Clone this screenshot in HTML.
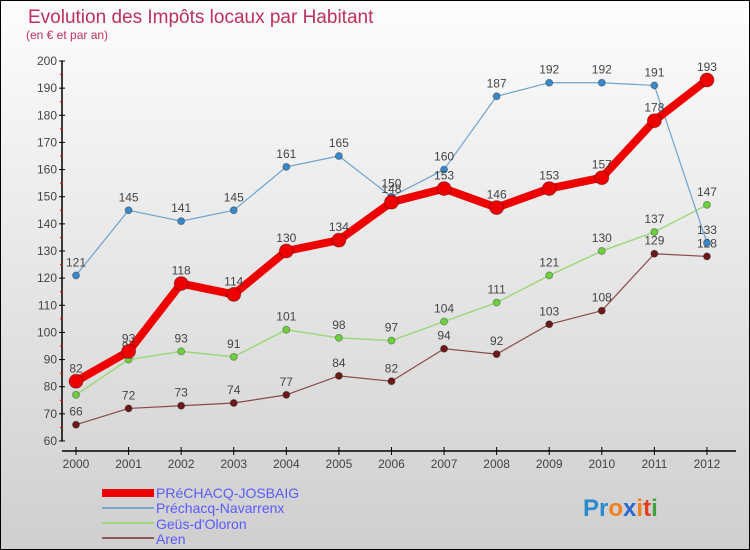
<!DOCTYPE html>
<html><head><meta charset="utf-8"><style>
body{margin:0}
#c{width:748px;height:548px;border:1px solid #000;background:linear-gradient(#fdfdfd,#cfcfcf);position:relative;font-family:"Liberation Sans",sans-serif}
</style></head><body>
<div id="c">
<svg id="s" width="748" height="548" style="position:absolute;left:0;top:0">
<text x="27" y="22" font-size="19" fill="#c0305a">Evolution des Impôts locaux par Habitant</text>
<text x="25" y="38" font-size="12" fill="#c0305a">(en € et par an)</text>
<g id="ax"></g><g id="ser"></g>
<g>
<rect x="101" y="488" width="52" height="8" fill="#e00"/>
<text x="155" y="497" font-size="14" fill="#5a5aff">PRéCHACQ-JOSBAIG</text>
<line x1="101" y1="507" x2="153" y2="507" stroke="#7aa8cc" stroke-width="2"/>
<text x="155" y="512" font-size="14" fill="#5a5aff">Préchacq-Navarrenx</text>
<line x1="101" y1="522" x2="153" y2="522" stroke="#9ed87a" stroke-width="2"/>
<text x="155" y="528" font-size="14" fill="#5a5aff">Geüs-d'Oloron</text>
<line x1="101" y1="537" x2="153" y2="537" stroke="#8a5a5a" stroke-width="2"/>
<text x="155" y="543" font-size="14" fill="#5a5aff">Aren</text>
</g>
<text x="582" y="515" font-size="24" font-weight="bold"><tspan fill="#2a8ad0">Pr</tspan><tspan fill="#f08020">o</tspan><tspan fill="#2a6ad0">x</tspan><tspan fill="#f08020">i</tspan><tspan fill="#e04020">t</tspan><tspan fill="#40a040">i</tspan></text>
</svg></div>
<script>
const years=[2000,2001,2002,2003,2004,2005,2006,2007,2008,2009,2010,2011,2012];
const yTicks=[60,70,80,90,100,110,120,130,140,150,160,170,180,190,200];
const josbaig=[82,93,118,114,130,134,148,153,146,153,157,178,193];
const navarrenx=[121,145,141,145,161,165,150,160,187,192,192,191,133];
const geus=[77,90,93,91,101,98,97,104,111,121,130,137,147];
const aren=[66,72,73,74,77,84,82,94,92,103,108,129,128];
const NS="http://www.w3.org/2000/svg";
const X=i=>75+i*52.58, Y=v=>440-(v-60)*380/140;
function mk(t,a,p){const e=document.createElementNS(NS,t);for(const k in a)e.setAttribute(k,a[k]);p.appendChild(e);return e;}
const ax=document.getElementById('ax');
let l=mk('line',{x1:61,y1:60,x2:61,y2:440,stroke:'#000','stroke-width':1.5},ax);


l=mk('line',{x1:61,y1:450,x2:735,y2:450,stroke:'#000','stroke-width':1.5},ax);


yTicks.forEach((v,i)=>{mk('line',{x1:58,y1:Y(v),x2:64,y2:Y(v),stroke:'#000'},ax);
 if(i<yTicks.length-1)mk('line',{x1:59,y1:Y(v+5),x2:62,y2:Y(v+5),stroke:'#e00'},ax);
 const t=mk('text',{x:56,y:Y(v)+4,'font-size':12,fill:'#444','text-anchor':'end'},ax);t.textContent=v;
 
 });
years.forEach((y,i)=>{mk('line',{x1:X(i),y1:446,x2:X(i),y2:454,stroke:'#000'},ax);
 const t=mk('text',{x:X(i),y:467,'font-size':12,fill:'#444','text-anchor':'middle'},ax);t.textContent=y;
 
 });
const ser=document.getElementById('ser');
function draw(vals,col,w,r,dot,name,lbl){
 const g=mk('g',{},ser);
 
 
 mk('polyline',{points:vals.map((v,i)=>X(i)+','+Y(v)).join(' '),fill:'none',stroke:col,'stroke-width':w,'stroke-linejoin':'round'},g);
 vals.forEach((v,i)=>{const c=mk('circle',{cx:X(i),cy:Y(v),r:r,fill:dot,stroke:'rgba(0,0,0,0.3)'},g);
  
  
  if(lbl){const t=mk('text',{x:X(i),y:Y(v)-9,'font-size':12,fill:'#444','text-anchor':'middle'},g);t.textContent=v;}});
}
draw(aren,'#8a4a4a',1.2,3.5,'#6a1a1a','series-aren',true);
draw(geus,'#9ed87a',1.5,3.5,'#6ed040','series-geus-d-oloron',true);
draw(navarrenx,'#6fa3cf',1.2,3.5,'#3a88c8','series-prechacq-navarrenx',true);
draw(josbaig,'#ee0000',8,7,'#ee0000','series-prechacq-josbaig',true);
</script>
</body></html>
